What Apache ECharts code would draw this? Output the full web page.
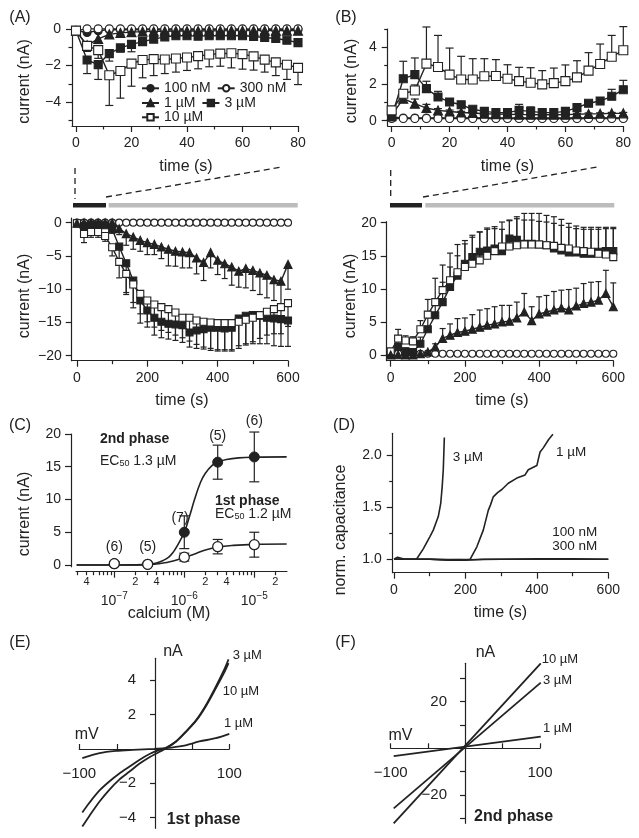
<!DOCTYPE html>
<html>
<head>
<meta charset="utf-8">
<script src="https://cdn.jsdelivr.net/npm/echarts@6/dist/echarts.min.js"></script>
<style>
  html, body { margin: 0; padding: 0; background: #fff; }
  #chart { width: 639px; height: 838px; }
</style>
</head>
<body>
<div id="chart"></div>
<script>
const FONT = '"Liberation Sans", Arial, Helvetica, sans-serif';
const INK = '#222';

// ---- time bases ----
const tShort = [0, 4, 8, 12, 16, 20, 24, 28, 32, 36, 40, 44, 48, 52, 56, 60, 64, 68, 72, 76, 80];
const tLong = [0, 20, 40, 60, 80, 100, 120, 140, 160, 180, 200, 220, 240, 260, 280, 300,
  320, 340, 360, 380, 400, 420, 440, 460, 480, 500, 520, 540, 560, 580, 600];

// ---- (A) top: 1st phase, first 80 s (nA) ----
const a100nM = [-0.1, -0.2, -0.1, -0.05, -0.05, -0.05, -0.05, -0.05, -0.05, -0.05, -0.05, -0.05, -0.05, -0.05, -0.05, -0.05, -0.05, -0.05, -0.05, -0.05, -0.05];
const a300nM = [-0.1, 0, 0, 0, 0, 0, 0, 0, 0, 0, 0, 0, 0, 0, 0, 0, 0, 0, 0, 0, 0];
const a1uM = [-0.1, -0.9, -0.55, -0.3, -0.22, -0.18, -0.15, -0.14, -0.13, -0.12, -0.12, -0.12, -0.11, -0.11, -0.1, -0.1, -0.1, -0.1, -0.1, -0.1, -0.1];
const a1uMErr = [0, 0.15, 0.25, 0.2, 0.1, 0.06, 0.05, 0.05, 0.05, 0.05, 0.05, 0.05, 0.05, 0.05, 0.05, 0.05, 0.05, 0.05, 0.05, 0.05, 0.05];
const a3uM = [-0.1, -1.7, -1.95, -1.35, -1.04, -0.85, -0.7, -0.56, -0.44, -0.38, -0.38, -0.4, -0.38, -0.38, -0.38, -0.38, -0.42, -0.47, -0.53, -0.62, -0.75];
const a3uMErr = [0, 0.74, 0.81, 0.41, 0.23, 0.4, 0.15, 0.12, 0.1, 0.1, 0.1, 0.12, 0.1, 0.1, 0.1, 0.1, 0.1, 0.12, 0.12, 0.15, 0.2];
const a10uM = [-0.1, -0.93, -1.16, -2.53, -2.3, -1.9, -1.7, -1.65, -1.67, -1.62, -1.56, -1.49, -1.4, -1.35, -1.33, -1.38, -1.5, -1.68, -1.83, -1.96, -2.13];
const a10uMErr = [0, 0.3, 0.45, 1.65, 1.48, 1.23, 0.97, 0.9, 0.77, 0.74, 0.71, 0.69, 0.67, 0.69, 0.8, 0.82, 0.75, 0.68, 0.72, 0.8, 0.91];

// ---- (B) top: 2nd phase, first 80 s (nA) ----
const b100nM = [0.2, 0.15, 0.15, 0.15, 0.15, 0.15, 0.15, 0.15, 0.15, 0.15, 0.15, 0.15, 0.15, 0.15, 0.15, 0.15, 0.15, 0.15, 0.15, 0.15, 0.15];
const b300nM = [0.12, 0.12, 0.12, 0.12, 0.12, 0.12, 0.12, 0.12, 0.12, 0.12, 0.12, 0.12, 0.12, 0.12, 0.12, 0.12, 0.12, 0.12, 0.12, 0.12, 0.12];
const b1uM = [0.29, 1.2, 0.93, 0.69, 0.56, 0.5, 0.45, 0.42, 0.38, 0.36, 0.35, 0.33, 0.33, 0.32, 0.32, 0.33, 0.35, 0.37, 0.38, 0.4, 0.4];
const b1uMErr = [0, 0.1, 0.25, 0.2, 0.1, 0.08, 0.06, 0.05, 0.05, 0.05, 0.05, 0.05, 0.05, 0.05, 0.05, 0.05, 0.05, 0.05, 0.05, 0.05, 0.05];
const b3uM = [0.2, 2.29, 2.51, 1.75, 1.29, 1.02, 0.87, 0.62, 0.51, 0.44, 0.44, 0.56, 0.51, 0.44, 0.44, 0.51, 0.71, 0.95, 1.07, 1.33, 1.69];
const b3uMErr = [0, 0.95, 0.91, 0.4, 0.31, 0.18, 0.12, 0.1, 0.1, 0.1, 0.1, 0.33, 0.24, 0.1, 0.1, 0.1, 0.1, 0.1, 0.18, 0.38, 0.51];
const b10uM = [0.56, 1.47, 1.65, 3.11, 2.93, 2.51, 2.25, 2.25, 2.42, 2.44, 2.29, 2.16, 2.07, 1.98, 2.05, 2.16, 2.36, 2.73, 3.09, 3.49, 3.84];
const b10uMErr = [0, 0.2, 0.3, 2.0, 1.72, 1.45, 1.26, 1.13, 0.96, 0.89, 0.76, 0.75, 0.82, 0.75, 0.82, 0.88, 0.91, 0.98, 1.09, 1.16, 1.29];

// ---- (A) bottom: 1st phase, 600 s (nA) ----
const aL300nM = [0, 0, 0, 0, 0, 0, 0, 0, 0, 0, 0, 0, 0, 0, 0, 0, 0, 0, 0, 0, 0, 0, 0, 0, 0, 0, 0, 0, 0, 0, 0];
const aL1uM = [-0.1, 0, 0, 0, 0, 0, -0.9, -1.65, -2.15, -2.66, -3.0, -3.26, -3.66, -4.0, -4.3, -4.4, -4.5, -5.3, -6.0, -4.5, -5.66, -6.17, -6.67, -7.3, -6.9, -7.17, -7.57, -7.9, -8.57, -8.8, -6.27];
const aL1uMErr = [0, 0.2, 0.1, 0.1, 0.1, 0.1, 0.9, 1.75, 1.85, 1.64, 1.8, 1.54, 1.74, 2.5, 2.25, 2.4, 2.3, 2.4, 2.7, 2.3, 2.14, 2.23, 2.73, 2.4, 2.9, 3.03, 3.23, 3.4, 3.13, 3.6, 3.73];
const aL3uM = [-0.1, -0.5, -0.3, -0.3, -0.4, -1.0, -3.6, -6.1, -8.7, -11.7, -13.2, -14.3, -14.9, -15.2, -15.3, -15.4, -16.5, -16.2, -16.0, -15.8, -15.8, -15.9, -15.8, -14.4, -14.0, -13.9, -14.0, -14.3, -14.4, -14.5, -14.7];
const aL3uMErr = [0, 0.5, 0.3, 0.3, 0.3, 0.6, 1.9, 4.7, 4.1, 3.4, 2.5, 2.6, 2.4, 2.3, 2.4, 2.6, 2.2, 2.7, 3.0, 3.4, 3.5, 3.4, 3.5, 4.1, 4.2, 4.3, 4.2, 3.9, 4.1, 4.1, 3.9];
const aL10uM = [-0.1, -1.7, -1.4, -1.4, -2.0, -3.7, -5.9, -7.7, -9.3, -10.7, -11.7, -12.3, -12.7, -13.0, -13.5, -14.3, -14.3, -14.7, -14.9, -15.0, -15.1, -15.1, -15.1, -14.9, -14.6, -14.3, -13.9, -13.4, -13.0, -12.7, -12.1];
const aL10uMErr = [0, 1.3, 0.8, 0.8, 0.8, 1.3, 2.4, 2.8, 2.7, 3.0, 3.2, 3.4, 3.5, 3.5, 3.4, 3.0, 3.5, 3.6, 3.8, 3.9, 4.0, 4.0, 4.0, 4.0, 3.8, 3.6, 3.5, 3.5, 3.7, 4.0, 3.5];

// ---- (B) bottom: 2nd phase, 600 s (nA) ----
const bL300nM = [0.05, 0.2, 0.2, 0.2, 0.2, 0.2, 0.2, 0.2, 0.2, 0.2, 0.2, 0.2, 0.2, 0.2, 0.2, 0.2, 0.2, 0.2, 0.2, 0.2, 0.2, 0.2, 0.2, 0.2, 0.2, 0.2, 0.2, 0.2, 0.2, 0.2, 0.2];
const bL1uM = [0, 0.05, 0, 0, 0.2, 0.45, 1.2, 2.5, 3.0, 3.4, 3.6, 3.9, 4.2, 4.5, 4.7, 5.0, 5.1, 5.6, 6.5, 5.2, 6.2, 6.5, 6.8, 7.1, 6.8, 7.4, 7.8, 8.0, 8.3, 9.3, 7.3];
const bL1uMErr = [0, 0, 0, 0, 0, 0.2, 0.5, 1.5, 1.7, 2.1, 2.0, 2.2, 2.6, 2.5, 2.6, 2.5, 2.4, 2.4, 2.8, 2.1, 2.6, 2.5, 2.8, 2.7, 3.1, 2.7, 3.0, 3.0, 2.8, 3.5, 3.6];
const bL3uM = [0.05, 1.2, 0.55, 0.45, 1.7, 3.9, 6.0, 8.0, 10.3, 12.0, 13.8, 14.8, 15.6, 15.8, 16.1, 15.7, 17.6, 17.4, 16.8, 16.8, 16.7, 16.6, 16.1, 15.8, 15.5, 15.5, 15.3, 15.3, 15.6, 15.7, 15.7];
const bL3uMErr = [0, 1.0, 0.5, 0.5, 1.0, 2.0, 2.5, 3.0, 3.0, 3.0, 3.0, 3.0, 3.0, 3.2, 3.0, 3.3, 2.8, 3.2, 3.6, 3.6, 3.5, 3.5, 3.8, 3.8, 3.8, 3.6, 3.7, 3.7, 3.4, 3.4, 3.4];
const bL10uM = [0.55, 2.47, 2.2, 2.06, 3.9, 6.1, 8.0, 9.8, 11.3, 12.5, 13.3, 13.8, 14.3, 15.0, 15.7, 16.4, 16.4, 16.6, 16.7, 16.7, 16.7, 16.6, 16.5, 16.2, 16.1, 15.8, 15.7, 15.6, 15.3, 15.2, 14.8];
const bL10uMErr = [0, 1.4, 0.7, 0.7, 1.3, 2.3, 3.6, 3.8, 4.1, 4.2, 4.0, 4.3, 4.3, 4.2, 3.7, 3.7, 3.9, 4.3, 4.7, 4.7, 4.7, 4.5, 4.4, 4.3, 3.8, 3.7, 3.6, 3.7, 4.0, 4.1, 4.5];

// ---- (C) dose response (calcium in M, current in nA) ----
const cConc = [1e-7, 3e-7, 1e-6, 3e-6, 1e-5];
const cN = ['(6)', '(5)', '(7)', '(5)', '(6)'];
const c2nd = [0.2, 0.1, 5.0, 15.7, 16.5];
const c2ndErr = [0.3, 0.2, 2.5, 2.6, 3.8];
const c1st = [0.2, 0.1, 1.2, 2.8, 3.1];
const c1stErr = [0.2, 0.1, 0.6, 1.1, 1.9];
const c2ndFitConc = [2.9e-8, 1e-7, 2e-7, 3e-7, 4e-7, 5e-7, 6e-7, 7e-7, 8e-7, 1e-6, 1.2e-6, 1.4e-6, 1.7e-6, 2e-6, 2.5e-6, 3e-6, 4e-6, 6e-6, 1e-5, 2.9e-5];
const c2ndFit = [0, 0, 0.02, 0.1, 0.3, 0.7, 1.2, 2.0, 3.0, 5.0, 7.6, 10.0, 12.6, 14.0, 15.2, 15.7, 16.1, 16.35, 16.45, 16.5];
const c1stFitConc = [2.9e-8, 1e-7, 2e-7, 3e-7, 4e-7, 5e-7, 6e-7, 8e-7, 1e-6, 1.5e-6, 2e-6, 3e-6, 5e-6, 1e-5, 2.9e-5];
const c1stFit = [0, 0, 0.02, 0.05, 0.15, 0.3, 0.45, 0.8, 1.15, 1.8, 2.3, 2.75, 3.0, 3.15, 3.2];

// ---- (D) normalised capacitance ----
const d3uMTime = [0, 30, 63, 82, 101, 110, 124, 131, 135, 138, 141];
const d3uM = [1.0, 1.0, 1.0, 1.1, 1.22, 1.28, 1.41, 1.54, 1.7, 1.86, 2.17];
const d1uMTime = [0, 100, 150, 213, 232, 250, 264, 270, 278, 290, 302, 320, 344, 367, 376, 400, 404, 409, 418, 433, 445];
const d1uM = [1.0, 1.0, 0.995, 1.0, 1.12, 1.28, 1.47, 1.52, 1.6, 1.64, 1.67, 1.73, 1.78, 1.81, 1.86, 1.9, 1.96, 2.03, 2.07, 2.15, 2.2];
const d100nMTime = [0, 5, 10, 15, 30, 100, 150, 200, 250, 300, 400, 500, 600];
const d100nM = [1.0, 1.01, 1.02, 1.01, 1.0, 1.0, 0.99, 0.99, 1.0, 1.0, 1.005, 1.005, 1.0];
const d300nMTime = [0, 50, 100, 200, 300, 400, 500, 600];
const d300nM = [1.0, 1.0, 1.0, 0.995, 1.0, 1.0, 1.0, 1.0];

// ---- (E) I-V, 1st phase (mV, nA) ----
const eMv = [-96, -87, -73, -60, -47, -33, -20, -7, 7, 16, 29, 42, 56, 69, 82, 93, 99];
const e3uM = [-4.52, -3.93, -3.06, -2.38, -1.8, -1.32, -0.87, -0.5, -0.17, 0.04, 0.43, 1.0, 1.69, 2.56, 3.62, 4.59, 5.21];
const e10uM = [-3.7, -3.16, -2.42, -1.9, -1.45, -1.03, -0.64, -0.31, -0.06, 0.08, 0.43, 0.98, 1.65, 2.5, 3.52, 4.42, 4.99];
const e1uMMv = [-96, -73, -51, -29, 0, 16, 38, 60, 82, 100];
const e1uM = [-0.54, -0.25, -0.12, -0.06, 0, 0.04, 0.17, 0.43, 0.62, 0.87];

// ---- (F) I-V, 2nd phase (mV, nA) ----
const fMv = [-96, 101];
const f10uM = [-32.1, 36.4];
const f3uM = [-25.7, 28.1];
const f1uM = [-3.3, 5.0];

// ---------------------------------------------------------------
const pairs = (xs, ys) => xs.map((x, i) => [x, ys[i]]);
const minus = v => String(v).replace('-', '\u2212');

const SYM = {
  '100 nM': { symbol: 'circle', fill: INK },
  '300 nM': { symbol: 'circle', fill: '#fff' },
  '1 µM': { symbol: 'triangle', fill: INK },
  '3 µM': { symbol: 'rect', fill: INK },
  '10 µM': { symbol: 'rect', fill: '#fff' }
};

function trace(grid, name, xs, ys, size) {
  return {
    type: 'line', name, xAxisIndex: grid, yAxisIndex: grid,
    data: pairs(xs, ys),
    symbol: SYM[name].symbol,
    symbolSize: name === '1 µM' ? size + 1 : size,
    showSymbol: true, showAllSymbol: true,
    lineStyle: { color: INK, width: 1.4 },
    itemStyle: { color: SYM[name].fill, borderColor: INK, borderWidth: 1.1 },
    z: 3
  };
}

// dir: -1 down, +1 up, 0 both ways
function errBars(grid, xs, ys, errs, dir, cap) {
  return {
    type: 'custom', xAxisIndex: grid, yAxisIndex: grid, silent: true, z: 2,
    data: xs.map((x, i) => [x, ys[i], errs[i]]),
    renderItem(params, api) {
      const x = api.value(0), y = api.value(1), e = api.value(2);
      if (!e) return;
      const ends = dir === 0 ? [y - e, y + e] : [y, y + dir * e];
      const a = api.coord([x, ends[0]]), b = api.coord([x, ends[1]]);
      const style = { stroke: INK, lineWidth: 1.2 };
      const kids = [{ type: 'line', shape: { x1: a[0], y1: a[1], x2: b[0], y2: b[1] }, style }];
      (dir === 0 ? [a, b] : [b]).forEach(p => kids.push({
        type: 'line', shape: { x1: p[0] - cap, y1: p[1], x2: p[0] + cap, y2: p[1] }, style
      }));
      return { type: 'group', children: kids };
    }
  };
}

function axis(grid, min, max, ticks, labels, o = {}) {
  return {
    type: 'value', gridIndex: grid, min, max, position: o.position,
    offset: o.offset || 0,
    splitLine: { show: false },
    axisLine: { show: o.line !== false, onZero: false, lineStyle: { color: INK, width: 1.2 } },
    axisTick: { show: true, length: o.tickLen || 6, inside: !!o.inside, customValues: ticks,
      lineStyle: { color: INK, width: 1.2 } },
    axisLabel: { show: !!labels, customValues: labels || [], margin: o.margin == null ? 10 : o.margin,
      fontFamily: FONT, fontSize: o.fontSize || 14, color: INK,
      formatter: o.fmt || minus, rich: o.rich, lineHeight: o.lineHeight }
  };
}
const minorX = (g, min, max, ticks, o = {}) => axis(g, min, max, ticks, o.labels, Object.assign({ position: 'bottom', line: false, tickLen: 3.5 }, o));
const minorY = (g, min, max, ticks) => axis(g, min, max, ticks, null, { position: 'left', line: false, tickLen: 3.5 });

const grids = [
  { left: 72, top: 27, width: 226, height: 99 },        // A top
  { left: 387.7, top: 29, width: 235.6, height: 97 },   // B top
  { left: 71.7, top: 218, width: 216.3, height: 142.7 },// A bottom
  { left: 386.7, top: 221.7, width: 226.6, height: 139 },// B bottom
  { left: 76, top: 434, width: 211, height: 132.7 },    // C
  { left: 392.7, top: 433.3, width: 215.6, height: 139.4 },// D
  { left: 79.3, top: 658.3, width: 150, height: 170 },  // E
  { left: 390.7, top: 663.3, width: 149.3, height: 160 } // F
].map(g => Object.assign({ containLabel: false, outerBoundsMode: 'none' }, g));

const cMin = -7.547, cMax = -4.533;
const cMinor = [];
[-8, -7, -6, -5].forEach(n => { for (let k = 2; k <= 9; k++) {
  const v = Math.log10(k) + n; if (v >= cMin && v <= cMax) cMinor.push(v);
} });
const cMinorLabels = [4e-8, 2e-7, 4e-7, 2e-6, 4e-6, 2e-5].map(Math.log10);

// E and F: axes cross at the origin (offsets move them from the grid edge to zero)
const xAxes = [
  axis(0, -1.44, 80, [0, 20, 40, 60, 80], [0, 20, 40, 60, 80], { position: 'bottom', margin: 10 }),
  axis(1, -1.38, 80, [0, 20, 40, 60, 80], [0, 20, 40, 60, 80], { position: 'bottom', margin: 10 }),
  axis(2, -15, 600, [0, 200, 400, 600], [0, 200, 400, 600], { position: 'bottom', margin: 10 }),
  axis(3, -10.8, 600, [0, 200, 400, 600], [0, 200, 400, 600], { position: 'bottom', margin: 10 }),
  axis(4, cMin, cMax, [-7, -6, -5], [-7, -6, -5], { position: 'bottom', offset: 5, margin: 20, lineHeight: 18,
    fmt: v => '10{sup|' + minus(Math.round(v)) + '}',
    rich: { sup: { fontSize: 10, fontFamily: FONT, color: INK, verticalAlign: 'top', lineHeight: 10 } } }),
  axis(5, -3.6, 600, [0, 200, 400, 600], [0, 200, 400, 600], { position: 'bottom', margin: 10 }),
  axis(6, -100, 100, [-100, -50, 50, 100], [-100, 100], { position: 'bottom', offset: -79.3, inside: true, tickLen: 5, margin: 17, fontSize: 15 }),
  axis(7, -100, 100, [-100, -50, 50, 100], [-100, 100], { position: 'bottom', offset: -75, inside: true, tickLen: 5, margin: 17, fontSize: 15 }),
  // minor ticks
  minorX(0, -1.44, 80, [10, 30, 50, 70]),
  minorX(1, -1.38, 80, [10, 30, 50, 70]),
  minorX(2, -15, 600, [100, 300, 500]),
  minorX(3, -10.8, 600, [100, 300, 500]),
  minorX(4, cMin, cMax, cMinor, { offset: 5, labels: cMinorLabels, margin: 5, fontSize: 11,
    fmt: v => String(Math.round(Math.pow(10, v - Math.floor(v + 1e-9)))) }),
  minorX(5, -3.6, 600, [100, 300, 500])
];

const yAxes = [
  axis(0, -5.3, 0.1, [0, -2, -4], [0, -2, -4], { position: 'left', margin: 11 }),
  axis(1, -0.29, 5.0, [0, 2, 4], [0, 2, 4], { position: 'left', margin: 11 }),
  axis(2, -20.75, 0.7, [0, -5, -10, -15, -20], [0, -5, -10, -15, -20], { position: 'left', margin: 10 }),
  axis(3, -0.86, 20.15, [0, 5, 10, 15, 20], [0, 5, 10, 15, 20], { position: 'left', margin: 10 }),
  axis(4, -0.26, 20, [0, 5, 10, 15, 20], [0, 5, 10, 15, 20], { position: 'left', offset: 5, margin: 10 }),
  axis(5, 0.871, 2.21, [1.0, 1.5, 2.0], [1.0, 1.5, 2.0], { position: 'left', margin: 11, fmt: v => v.toFixed(1) }),
  axis(6, -4.62, 5.27, [-4, -2, 2, 4], [-4, -2, 2, 4], { position: 'left', offset: -75.7, tickLen: 5, margin: 19, fontSize: 15 }),
  axis(7, -32.1, 36.4, [-30, -20, -10, 10, 20, 30], [-20, 20], { position: 'left', offset: -74.3, tickLen: 5, margin: 18, fontSize: 15 }),
  minorY(0, -5.3, 0.1, [-1, -3, -5]),
  minorY(1, -0.29, 5.0, [1, 3, 5]),
  minorY(5, 0.871, 2.21, [1.25, 1.75])
];

const series = [
  // A top
  errBars(0, tShort, a1uM, a1uMErr, -1, 4),
  errBars(0, tShort, a3uM, a3uMErr, -1, 4),
  errBars(0, tShort, a10uM, a10uMErr, -1, 4),
  trace(0, '100 nM', tShort, a100nM, 8),
  trace(0, '300 nM', tShort, a300nM, 8),
  trace(0, '1 µM', tShort, a1uM, 8),
  trace(0, '3 µM', tShort, a3uM, 8),
  trace(0, '10 µM', tShort, a10uM, 9),
  // B top
  errBars(1, tShort, b1uM, b1uMErr, 1, 4),
  errBars(1, tShort, b3uM, b3uMErr, 1, 4),
  errBars(1, tShort, b10uM, b10uMErr, 1, 4),
  trace(1, '100 nM', tShort, b100nM, 8),
  trace(1, '300 nM', tShort, b300nM, 8),
  trace(1, '1 µM', tShort, b1uM, 8),
  trace(1, '3 µM', tShort, b3uM, 8),
  trace(1, '10 µM', tShort, b10uM, 9),
  // A bottom
  errBars(2, tLong, aL1uM, aL1uMErr, -1, 3),
  errBars(2, tLong, aL3uM, aL3uMErr, -1, 3),
  errBars(2, tLong, aL10uM, aL10uMErr, -1, 3),
  trace(2, '300 nM', tLong, aL300nM, 7),
  trace(2, '3 µM', tLong, aL3uM, 7),
  trace(2, '10 µM', tLong, aL10uM, 7),
  trace(2, '1 µM', tLong, aL1uM, 7),
  // B bottom
  errBars(3, tLong, bL1uM, bL1uMErr, 1, 3),
  errBars(3, tLong, bL3uM, bL3uMErr, 1, 3),
  errBars(3, tLong, bL10uM, bL10uMErr, 1, 3),
  trace(3, '300 nM', tLong, bL300nM, 7),
  trace(3, '3 µM', tLong, bL3uM, 7),
  trace(3, '10 µM', tLong, bL10uM, 7),
  trace(3, '1 µM', tLong, bL1uM, 7),
  // C
  { type: 'line', name: 'fit 2nd', xAxisIndex: 4, yAxisIndex: 4, data: pairs(c2ndFitConc.map(Math.log10), c2ndFit),
    smooth: 0.4, showSymbol: false, lineStyle: { color: INK, width: 1.6 }, z: 2 },
  { type: 'line', name: 'fit 1st', xAxisIndex: 4, yAxisIndex: 4, data: pairs(c1stFitConc.map(Math.log10), c1stFit),
    smooth: 0.4, showSymbol: false, lineStyle: { color: INK, width: 1.6 }, z: 2 },
  errBars(4, cConc.map(Math.log10), c2nd, c2ndErr, 0, 5),
  errBars(4, cConc.map(Math.log10), c1st, c1stErr, 0, 5),
  { type: 'scatter', name: '2nd phase', xAxisIndex: 4, yAxisIndex: 4, data: pairs(cConc.map(Math.log10), c2nd),
    symbol: 'circle', symbolSize: 10, itemStyle: { color: INK, borderColor: INK, borderWidth: 1, opacity: 1 }, z: 4 },
  { type: 'scatter', name: '1st phase', xAxisIndex: 4, yAxisIndex: 4, data: pairs(cConc.map(Math.log10), c1st),
    symbol: 'circle', symbolSize: 10, itemStyle: { color: '#fff', borderColor: INK, borderWidth: 1.3, opacity: 1 }, z: 5 },
  // D
  ...[[d100nMTime, d100nM], [d300nMTime, d300nM], [d3uMTime, d3uM], [d1uMTime, d1uM]].map(([t, v], i) => ({
    type: 'line', name: 'D' + i, xAxisIndex: 5, yAxisIndex: 5, data: pairs(t, v),
    showSymbol: false, lineStyle: { color: INK, width: 1.6 }, z: 3 })),
  // E
  ...[[eMv, e3uM], [eMv, e10uM], [e1uMMv, e1uM]].map(([x, v], i) => ({
    type: 'line', name: 'E' + i, xAxisIndex: 6, yAxisIndex: 6, data: pairs(x, v), smooth: 0.3,
    showSymbol: false, lineStyle: { color: INK, width: 1.8 }, z: 3 })),
  // F
  ...[f10uM, f3uM, f1uM].map((v, i) => ({
    type: 'line', name: 'F' + i, xAxisIndex: 7, yAxisIndex: 7, data: pairs(fMv, v),
    showSymbol: false, lineStyle: { color: INK, width: 1.8 }, z: 3 }))
];

function label(text, x, y, o = {}) {
  return { type: 'text', x, y, rotation: o.rot || 0, silent: true, z: 10,
    style: { text, fill: INK, fontFamily: FONT, fontSize: o.size || 16, fontWeight: o.bold ? 'bold' : 'normal',
      align: o.align || 'center', verticalAlign: 'middle', rich: o.rich } };
}
const dash = (x1, y1, x2, y2) => ({ type: 'line', silent: true,
  shape: { x1, y1, x2, y2 }, style: { stroke: INK, lineWidth: 1.3, lineDash: [6, 4] } });
const bar = (x, y, w, color) => ({ type: 'rect', silent: true, shape: { x, y, width: w, height: 4.5 }, style: { fill: color } });
const SUB = { sub: { fontSize: 9, fontFamily: FONT, fill: INK, verticalAlign: 'bottom', lineHeight: 10 } };
const rot = Math.PI / 2;

const graphic = [
  label('(A)', 20, 18), label('(B)', 346, 18), label('(C)', 20, 426),
  label('(D)', 344, 426), label('(E)', 20, 642.5), label('(F)', 345.5, 643),
  // axis titles
  label('current (nA)', 25, 81.5, { rot }), label('current (nA)', 351.5, 81, { rot }),
  label('current (nA)', 25, 296, { rot }), label('current (nA)', 351, 296, { rot }),
  label('current (nA)', 25, 514, { rot }), label('norm. capacitance', 341, 530, { rot }),
  label('time (s)', 186, 167), label('time (s)', 507.5, 167),
  label('time (s)', 182, 400.7), label('time (s)', 502, 400.7),
  label('calcium (M)', 169, 614), label('time (s)', 500.5, 612.7),
  // stimulus protocol
  dash(75, 168, 75, 199), dash(106, 197, 282, 167),
  bar(73, 203, 33, INK), bar(108.7, 203, 189, '#bcbcbc'),
  dash(390.7, 170, 390.7, 199), dash(423, 197, 597.7, 167),
  bar(390, 203, 32, INK), bar(425.3, 203, 189, '#bcbcbc'),
  // C annotations
  label('2nd phase', 100, 439, { size: 14, bold: true, align: 'left' }),
  label('EC{sub|50} 1.3 µM', 100, 461, { size: 14, align: 'left', rich: SUB }),
  label('1st phase', 215, 500.8, { size: 14, bold: true, align: 'left' }),
  label('EC{sub|50} 1.2 µM', 215, 514, { size: 14, align: 'left', rich: SUB }),
  label(cN[0], 114.3, 547, { size: 14 }), label(cN[1], 147.7, 547.3, { size: 14 }),
  label(cN[2], 180, 517.7, { size: 14 }), label(cN[3], 217.7, 436, { size: 14 }),
  label(cN[4], 254.3, 421.5, { size: 14 }),
  // D annotations
  label('3 µM', 452.7, 457.3, { size: 13.5, align: 'left' }),
  label('1 µM', 556, 452.7, { size: 13.5, align: 'left' }),
  label('100 nM', 552.3, 532.7, { size: 13.5, align: 'left' }),
  label('300 nM', 552.3, 546.7, { size: 13.5, align: 'left' }),
  // E annotations
  label('nA', 173, 652), label('mV', 86.7, 735),
  label('3 µM', 232.7, 655.7, { size: 13, align: 'left' }),
  label('10 µM', 222.7, 691.7, { size: 13, align: 'left' }),
  label('1 µM', 224, 723.3, { size: 13, align: 'left' }),
  label('1st phase', 166.7, 820, { bold: true, align: 'left' }),
  // F annotations
  label('nA', 485.5, 653), label('mV', 400.5, 736),
  label('10 µM', 541.7, 659.3, { size: 13, align: 'left' }),
  label('3 µM', 543, 680, { size: 13, align: 'left' }),
  label('1 µM', 543, 728.3, { size: 13, align: 'left' }),
  label('2nd phase', 474, 816.7, { bold: true, align: 'left' })
];

const legendBase = {
  orient: 'horizontal', itemWidth: 17, itemHeight: 8, itemGap: 6, padding: 0, selectedMode: false,
  textStyle: { fontFamily: FONT, fontSize: 14, color: INK, width: 48 }
};
const legend = [
  { data: ['100 nM', '300 nM'], left: 141, top: 81.3 },
  { data: ['1 µM', '3 µM'], left: 141, top: 96 },
  { data: ['10 µM'], left: 141, top: 110.3 }
].map(l => Object.assign({}, legendBase, l));

const chart = echarts.init(document.getElementById('chart'));
chart.setOption({
  animation: false,
  backgroundColor: '#fff',
  textStyle: { fontFamily: FONT },
  grid: grids,
  xAxis: xAxes,
  yAxis: yAxes,
  legend,
  series,
  graphic
});
window.addEventListener('resize', function () { chart.resize(); });
</script>
</body>
</html>
